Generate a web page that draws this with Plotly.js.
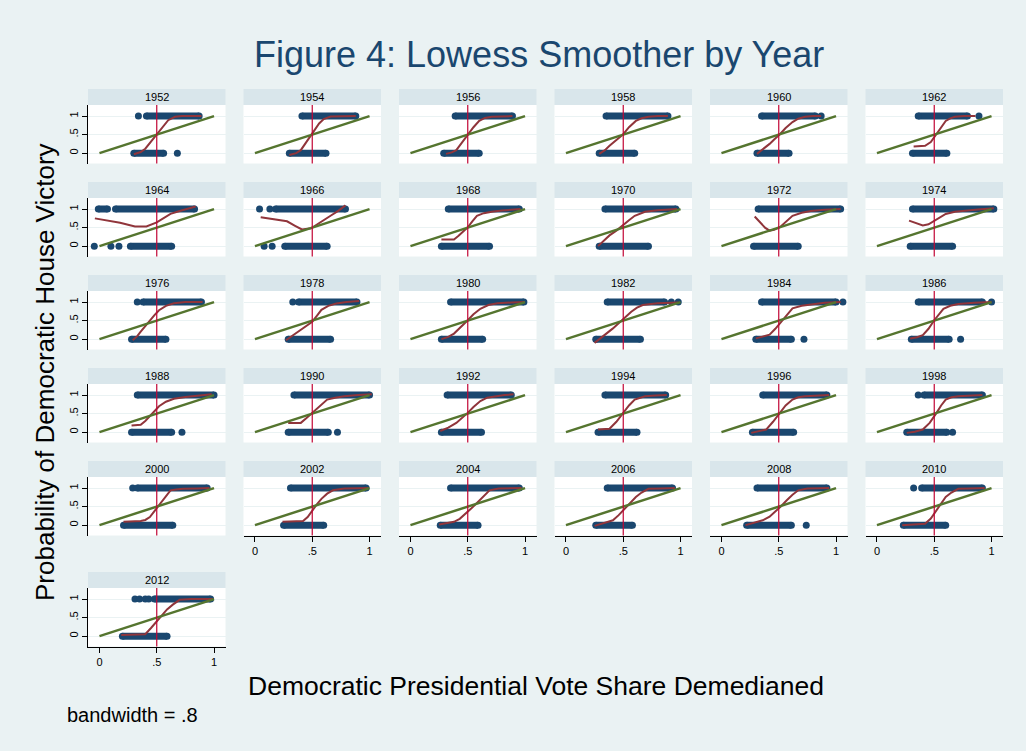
<!DOCTYPE html>
<html>
<head>
<meta charset="utf-8">
<script src="https://cdn.plot.ly/plotly-3.0.1.min.js"></script>
<style>
  html, body { margin: 0; padding: 0; background: #eaf2f3; }
  #chart { width: 1026px; height: 751px; }
</style>
</head>
<body>
<div id="chart"></div>
<script>
// Election years, one small panel each
const years = [1952, 1954, 1956, 1958, 1960, 1962, 1964, 1966, 1968, 1970, 1972,
  1974, 1976, 1978, 1980, 1982, 1984, 1986, 1988, 1990, 1992, 1994, 1996,
  1998, 2000, 2002, 2004, 2006, 2008, 2010, 2012];

// Observed vote shares of districts the Democrats won (y = 1):
// [from, to] = a dense run of districts, [x] = a single district
const winBands = [
  [[0.34], [0.41, 0.87]],
  [[0.41, 0.88]],
  [[0.39, 0.89]],
  [[0.35, 0.89]],
  [[0.35, 0.82], [0.87]],
  [[0.36, 0.79], [0.89]],
  [[-0.01, 0.07], [0.14, 0.83]],
  [[0.04], [0.13], [0.18, 0.79]],
  [[0.33, 0.95]],
  [[0.34, 0.96]],
  [[0.32, 1.04]],
  [[0.31, 1.02]],
  [[0.33], [0.38, 0.89]],
  [[0.33], [0.38, 0.89]],
  [[0.35, 0.99]],
  [[0.36, 0.86], [0.92], [0.98]],
  [[0.35, 1.0], [1.06]],
  [[0.36, 0.92], [1.0]],
  [[0.33, 1.0]],
  [[0.34, 1.0]],
  [[0.32, 0.88]],
  [[0.34, 0.87]],
  [[0.36, 0.92]],
  [[0.36], [0.41, 0.92]],
  [[0.29], [0.33, 0.94]],
  [[0.31, 0.97]],
  [[0.35, 0.95]],
  [[0.36, 0.93]],
  [[0.31, 0.92]],
  [[0.32], [0.39, 0.92]],
  [[0.31], [0.35], [0.40], [0.43], [0.48, 0.97]]
];

// Observed vote shares of districts the Democrats lost (y = 0)
const lossBands = [
  [[0.30, 0.56], [0.68]],
  [[0.30, 0.62]],
  [[0.29, 0.60]],
  [[0.29, 0.60]],
  [[0.31, 0.59]],
  [[0.31, 0.61]],
  [[-0.045], [0.10], [0.17], [0.27, 0.63]],
  [[0.08], [0.15], [0.26, 0.63]],
  [[0.27, 0.69]],
  [[0.29, 0.72]],
  [[0.28, 0.67]],
  [[0.29, 0.66]],
  [[0.28, 0.58]],
  [[0.29, 0.66]],
  [[0.27, 0.63]],
  [[0.26, 0.65]],
  [[0.30, 0.61], [0.72]],
  [[0.30, 0.63], [0.73]],
  [[0.28, 0.63], [0.72]],
  [[0.29, 0.64], [0.72]],
  [[0.27, 0.62]],
  [[0.28, 0.62]],
  [[0.27, 0.63]],
  [[0.26, 0.61], [0.66]],
  [[0.21, 0.64]],
  [[0.25, 0.60]],
  [[0.26, 0.59]],
  [[0.26, 0.58]],
  [[0.22, 0.61], [0.74]],
  [[0.23, 0.60]],
  [[0.20, 0.59]]
];

// Lowess fit (bandwidth .8), x values per year
const lowessX = [
  [0.30, 0.36, 0.40, 0.44, 0.48, 0.52, 0.56, 0.60, 0.66, 0.72, 0.89],
  [0.30, 0.36, 0.40, 0.44, 0.48, 0.52, 0.56, 0.60, 0.66, 0.74, 0.88],
  [0.31, 0.36, 0.40, 0.45, 0.50, 0.55, 0.60, 0.65, 0.71, 0.80, 0.89],
  [0.29, 0.34, 0.38, 0.44, 0.50, 0.55, 0.61, 0.66, 0.72, 0.80, 0.89],
  [0.31, 0.36, 0.42, 0.46, 0.51, 0.56, 0.62, 0.67, 0.73, 0.80, 0.87],
  [0.32, 0.37, 0.42, 0.47, 0.52, 0.56, 0.60, 0.64, 0.68, 0.76, 0.86],
  [-0.04, 0.05, 0.18, 0.31, 0.41, 0.50, 0.56, 0.62, 0.70, 0.78, 0.84],
  [0.05, 0.15, 0.28, 0.35, 0.41, 0.49, 0.57, 0.66, 0.73, 0.79],
  [0.27, 0.38, 0.42, 0.46, 0.50, 0.54, 0.58, 0.64, 0.71, 0.80, 0.96],
  [0.28, 0.33, 0.38, 0.44, 0.50, 0.55, 0.60, 0.65, 0.69, 0.80, 0.97],
  [0.29, 0.34, 0.38, 0.42, 0.46, 0.51, 0.56, 0.62, 0.70, 0.78, 0.90, 1.04],
  [0.28, 0.34, 0.40, 0.45, 0.50, 0.55, 0.60, 0.68, 0.76, 0.88, 1.02],
  [0.29, 0.33, 0.36, 0.40, 0.44, 0.48, 0.52, 0.58, 0.65, 0.75, 0.90],
  [0.27, 0.32, 0.37, 0.44, 0.50, 0.54, 0.58, 0.64, 0.71, 0.80, 0.91],
  [0.27, 0.33, 0.38, 0.44, 0.50, 0.55, 0.61, 0.68, 0.76, 0.88, 1.00],
  [0.25, 0.30, 0.36, 0.41, 0.46, 0.51, 0.57, 0.62, 0.67, 0.80, 0.98],
  [0.30, 0.36, 0.42, 0.47, 0.52, 0.57, 0.62, 0.70, 0.78, 0.90, 1.04],
  [0.29, 0.35, 0.40, 0.45, 0.50, 0.54, 0.58, 0.64, 0.71, 0.85, 1.00],
  [0.28, 0.36, 0.40, 0.44, 0.48, 0.52, 0.58, 0.65, 0.75, 0.88, 0.98],
  [0.29, 0.40, 0.45, 0.50, 0.56, 0.63, 0.70, 0.78, 0.90, 1.02],
  [0.26, 0.33, 0.40, 0.45, 0.50, 0.55, 0.61, 0.67, 0.74, 0.82, 0.90],
  [0.28, 0.34, 0.38, 0.44, 0.50, 0.55, 0.60, 0.65, 0.69, 0.78, 0.88],
  [0.26, 0.33, 0.39, 0.45, 0.51, 0.56, 0.62, 0.67, 0.73, 0.83, 0.94],
  [0.26, 0.33, 0.40, 0.46, 0.52, 0.56, 0.60, 0.65, 0.71, 0.80, 0.92],
  [0.21, 0.30, 0.36, 0.40, 0.44, 0.48, 0.52, 0.57, 0.62, 0.67, 0.73, 0.85, 0.96],
  [0.24, 0.33, 0.42, 0.46, 0.50, 0.54, 0.58, 0.63, 0.68, 0.78, 0.99],
  [0.25, 0.32, 0.38, 0.43, 0.48, 0.53, 0.58, 0.64, 0.69, 0.77, 0.97],
  [0.25, 0.33, 0.41, 0.46, 0.51, 0.56, 0.61, 0.66, 0.72, 0.82, 0.95],
  [0.21, 0.28, 0.36, 0.42, 0.47, 0.52, 0.57, 0.62, 0.67, 0.75, 0.94],
  [0.22, 0.32, 0.42, 0.47, 0.52, 0.56, 0.60, 0.65, 0.71, 0.80, 0.94],
  [0.19, 0.30, 0.40, 0.45, 0.50, 0.55, 0.59, 0.64, 0.70, 0.80, 0.99]
];

// Lowess fit, smoothed probability of a Democratic win per year
const lowessY = [
  [-0.03, 0.03, 0.12, 0.28, 0.44, 0.60, 0.76, 0.89, 0.98, 1.00, 1.00],
  [-0.05, 0.00, 0.08, 0.25, 0.44, 0.62, 0.80, 0.92, 0.99, 1.00, 1.00],
  [-0.02, 0.02, 0.08, 0.28, 0.51, 0.70, 0.87, 0.95, 0.98, 1.00, 1.00],
  [-0.02, 0.08, 0.20, 0.35, 0.51, 0.70, 0.87, 0.94, 0.98, 1.00, 1.00],
  [-0.02, 0.10, 0.25, 0.37, 0.51, 0.68, 0.84, 0.93, 0.98, 1.00, 1.00],
  [0.18, 0.19, 0.20, 0.30, 0.51, 0.70, 0.87, 0.94, 0.98, 1.00, 1.00],
  [0.75, 0.70, 0.63, 0.53, 0.53, 0.64, 0.75, 0.87, 0.95, 1.02, 1.07],
  [0.78, 0.73, 0.67, 0.55, 0.45, 0.48, 0.65, 0.82, 0.96, 1.10],
  [0.18, 0.18, 0.28, 0.40, 0.51, 0.67, 0.82, 0.89, 0.93, 0.96, 1.00],
  [0.00, 0.15, 0.29, 0.42, 0.56, 0.70, 0.82, 0.89, 0.93, 0.97, 1.00],
  [0.80, 0.64, 0.50, 0.42, 0.44, 0.51, 0.66, 0.82, 0.90, 0.95, 0.98, 1.00],
  [0.69, 0.62, 0.56, 0.59, 0.69, 0.79, 0.87, 0.93, 0.96, 0.99, 1.02],
  [-0.03, 0.08, 0.20, 0.36, 0.51, 0.65, 0.78, 0.90, 0.97, 1.00, 1.00],
  [-0.03, 0.08, 0.20, 0.33, 0.47, 0.63, 0.79, 0.90, 0.96, 1.00, 1.03],
  [0.00, 0.06, 0.15, 0.32, 0.51, 0.67, 0.82, 0.92, 0.97, 0.99, 1.00],
  [-0.10, 0.02, 0.15, 0.29, 0.43, 0.58, 0.74, 0.85, 0.92, 0.97, 0.99],
  [0.02, 0.06, 0.12, 0.28, 0.47, 0.66, 0.83, 0.90, 0.94, 0.98, 1.00],
  [0.02, 0.05, 0.11, 0.28, 0.51, 0.68, 0.82, 0.90, 0.95, 0.98, 1.00],
  [0.18, 0.20, 0.30, 0.43, 0.57, 0.70, 0.82, 0.90, 0.95, 0.99, 1.02],
  [0.25, 0.25, 0.38, 0.52, 0.70, 0.88, 0.93, 0.97, 1.00, 1.02],
  [0.03, 0.12, 0.25, 0.38, 0.52, 0.68, 0.84, 0.93, 0.97, 1.00, 1.02],
  [0.07, 0.08, 0.09, 0.28, 0.52, 0.72, 0.88, 0.94, 0.97, 0.99, 1.00],
  [-0.02, 0.02, 0.07, 0.28, 0.52, 0.72, 0.88, 0.94, 0.97, 0.99, 1.00],
  [-0.02, 0.01, 0.07, 0.25, 0.52, 0.72, 0.88, 0.94, 0.97, 0.99, 1.00],
  [0.09, 0.10, 0.11, 0.14, 0.22, 0.38, 0.54, 0.76, 0.94, 0.96, 0.98, 0.99, 1.00],
  [0.09, 0.10, 0.11, 0.22, 0.40, 0.56, 0.71, 0.85, 0.94, 0.99, 1.00],
  [0.02, 0.05, 0.09, 0.17, 0.30, 0.45, 0.60, 0.78, 0.94, 0.99, 1.00],
  [-0.02, 0.06, 0.13, 0.27, 0.44, 0.60, 0.76, 0.88, 0.98, 0.99, 1.00],
  [0.00, 0.06, 0.13, 0.23, 0.36, 0.51, 0.67, 0.82, 0.94, 0.99, 1.00],
  [0.00, 0.02, 0.04, 0.18, 0.40, 0.58, 0.76, 0.88, 0.98, 0.99, 1.00],
  [0.03, 0.04, 0.05, 0.22, 0.40, 0.56, 0.72, 0.85, 0.98, 1.00, 1.00]
];

// 45-degree reference line and the median marker
const diagX = [0, 1];
const diagY = [0, 1];
const medianShare = 0.5;
const tickVals = [0, 0.5, 1];
const tickText = ['0', '.5', '1'];

const W = 1026, H = 751;
const FONT = 'Liberation Sans, Arial, Helvetica, sans-serif';
const NAVY = '#1a476f', MAROON = '#90353b', GREEN = '#55752f', CRANBERRY = '#c10534';

// Panel geometry (pixels)
const colLeft0 = 88, colPitch = 155.5, panelW = 137.5;
const headerTops = [89, 182, 275, 368, 461, 572];
const headerH = 16, plotH = 58.5;

function bandXY(bands, yVal) {
  const xs = [], ys = [];
  bands.forEach(b => {
    b.forEach(v => { xs.push(v); ys.push(yVal); });
    xs.push(null); ys.push(null);
  });
  return { xs, ys };
}

const traces = [];
const shapes = [];
const annotations = [];
const layout = {
  width: W, height: H,
  margin: { l: 0, r: 0, t: 0, b: 0 },
  paper_bgcolor: '#eaf2f3',
  plot_bgcolor: '#ffffff',
  showlegend: false,
  font: { family: FONT, color: '#000' }
};

years.forEach((yr, i) => {
  const n = i === 0 ? '' : String(i + 1);
  const xa = 'x' + n, ya = 'y' + n;
  const col = i % 6, row = Math.floor(i / 6);
  const left = colLeft0 + col * colPitch;
  const hTop = headerTops[row];
  const pTop = hTop + headerH;
  const pBot = pTop + plotH;
  const hasX = (row === 4 && col > 0) || row === 5;
  const hasY = col === 0;

  layout['xaxis' + n] = {
    domain: [left / W, (left + panelW) / W],
    range: [-0.1, 1.1],
    anchor: ya,
    showgrid: false, zeroline: false,
    showline: hasX, linecolor: '#000', linewidth: 1,
    ticks: hasX ? 'outside' : '', ticklen: 5, tickcolor: '#000', tickwidth: 1,
    tickvals: tickVals, ticktext: tickText,
    showticklabels: hasX,
    tickfont: { family: FONT, size: 11, color: '#000' },
    fixedrange: true
  };
  layout['yaxis' + n] = {
    domain: [1 - pBot / H, 1 - pTop / H],
    range: [-0.28, 1.3],
    anchor: xa,
    showgrid: true, gridcolor: '#eaf2f3', gridwidth: 1,
    zeroline: false,
    showline: hasY, linecolor: '#000', linewidth: 1,
    ticks: hasY ? 'outside' : '', ticklen: 5, tickcolor: '#000', tickwidth: 1,
    tickvals: tickVals, ticktext: tickText,
    showticklabels: hasY, tickangle: -90,
    tickfont: { family: FONT, size: 11, color: '#000' },
    fixedrange: true
  };

  // year strip above each panel
  shapes.push({
    type: 'rect', xref: 'paper', yref: 'paper',
    x0: left / W, x1: (left + panelW) / W,
    y0: 1 - pTop / H, y1: 1 - hTop / H,
    fillcolor: '#d9e6eb', line: { width: 0 }, layer: 'below'
  });
  annotations.push({
    xref: 'paper', yref: 'paper',
    x: (left + panelW / 2) / W, y: 1 - (hTop + headerH / 2) / H,
    xanchor: 'center', yanchor: 'middle',
    text: String(yr), showarrow: false,
    font: { family: FONT, size: 11, color: '#000' }
  });

  // districts won and lost
  const w = bandXY(winBands[i], 1);
  const l = bandXY(lossBands[i], 0);
  [w, l].forEach(d => traces.push({
    type: 'scatter', mode: 'lines+markers',
    x: d.xs, y: d.ys, xaxis: xa, yaxis: ya,
    line: { color: NAVY, width: 7 },
    marker: { color: NAVY, size: 7 },
    connectgaps: false, hoverinfo: 'skip', cliponaxis: false
  }));

  // lowess smoother
  traces.push({
    type: 'scatter', mode: 'lines',
    x: lowessX[i], y: lowessY[i], xaxis: xa, yaxis: ya,
    line: { color: MAROON, width: 2 }, hoverinfo: 'skip'
  });

  // 45-degree line
  traces.push({
    type: 'scatter', mode: 'lines',
    x: diagX, y: diagY, xaxis: xa, yaxis: ya,
    line: { color: GREEN, width: 2.5 }, hoverinfo: 'skip'
  });

  // vertical line at the median share
  shapes.push({
    type: 'line', xref: xa, yref: ya + ' domain',
    x0: medianShare, x1: medianShare, y0: 0, y1: 1,
    line: { color: CRANBERRY, width: 1.2 }, layer: 'above'
  });
});

annotations.push(
  {
    xref: 'paper', yref: 'paper', x: 539 / W, y: 1 - 55 / H,
    xanchor: 'center', yanchor: 'middle', showarrow: false,
    text: 'Figure 4: Lowess Smoother by Year',
    font: { family: FONT, size: 36, color: NAVY }
  },
  {
    xref: 'paper', yref: 'paper', x: 45 / W, y: 1 - 372 / H,
    xanchor: 'center', yanchor: 'middle', showarrow: false, textangle: -90,
    text: 'Probability of Democratic House Victory',
    font: { family: FONT, size: 26, color: '#000' }
  },
  {
    xref: 'paper', yref: 'paper', x: 536 / W, y: 1 - 686 / H,
    xanchor: 'center', yanchor: 'middle', showarrow: false,
    text: 'Democratic Presidential Vote Share Demedianed',
    font: { family: FONT, size: 26.5, color: '#000' }
  },
  {
    xref: 'paper', yref: 'paper', x: 65 / W, y: 1 - 715 / H,
    xanchor: 'left', yanchor: 'middle', showarrow: false,
    text: 'bandwidth = .8',
    font: { family: FONT, size: 20, color: '#000' }
  }
);

layout.shapes = shapes;
layout.annotations = annotations;

Plotly.newPlot('chart', traces, layout, { displayModeBar: false, staticPlot: true });
</script>
</body>
</html>
